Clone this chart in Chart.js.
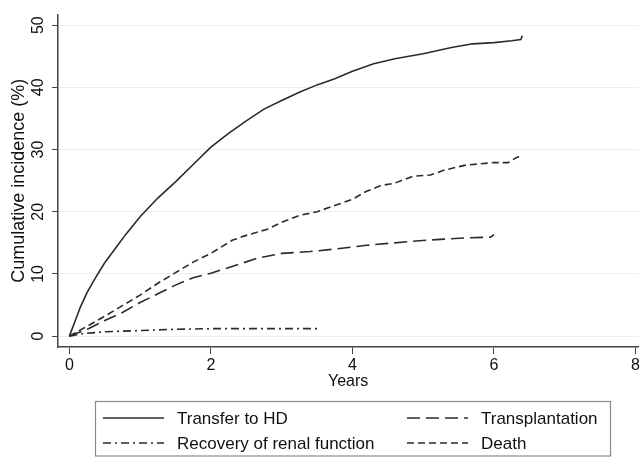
<!DOCTYPE html>
<html>
<head>
<meta charset="utf-8">
<script src="https://cdn.jsdelivr.net/npm/chart.js@4.4.1/dist/chart.umd.min.js"></script>
<style>
  html, body { margin: 0; padding: 0; background: #fff; }
  #wrap { width: 642px; height: 457px; position: relative; }
</style>
</head>
<body>
<div id="wrap"><canvas id="cifChart"></canvas></div>
<script>
// Cumulative incidence of competing events (%), by years since start
const xTicks = [0, 2, 4, 6, 8];
const yTicks = [0, 10, 20, 30, 40, 50];

const hdYears = [0, 0.085, 0.15, 0.25, 0.35, 0.5, 0.65, 0.8, 1.0, 1.25, 1.5, 1.75, 2.0, 2.25, 2.5, 2.75, 3.0, 3.25, 3.5, 3.75, 4.0, 4.3, 4.6, 5.0, 5.4, 5.7, 6.0, 6.25, 6.38, 6.4];
const hdValues = [0, 2.5, 4.5, 7.0, 9.0, 11.8, 14.1, 16.4, 19.2, 22.2, 24.8, 27.6, 30.4, 32.6, 34.6, 36.5, 37.9, 39.2, 40.4, 41.4, 42.6, 43.8, 44.6, 45.4, 46.4, 47.0, 47.2, 47.5, 47.7, 48.3];

const txYears = [0, 0.27, 0.5, 0.75, 1.0, 1.25, 1.5, 1.75, 2.0, 2.3, 2.65, 3.0, 3.4, 3.75, 4.2, 4.6, 4.9, 5.3, 5.6, 5.95, 6.0];
const txValues = [0, 1.2, 2.5, 3.8, 5.4, 6.8, 8.2, 9.4, 10.1, 11.2, 12.5, 13.3, 13.6, 14.0, 14.6, 15.0, 15.3, 15.6, 15.8, 15.9, 16.3];

const recYears = [0, 0.2, 0.5, 1.0, 1.5, 2.0, 2.5, 3.0, 3.55];
const recValues = [0, 0.4, 0.7, 0.9, 1.1, 1.2, 1.2, 1.2, 1.2];

const deathYears = [0, 0.27, 0.5, 0.75, 1.0, 1.25, 1.5, 1.75, 2.0, 2.3, 2.5, 2.8, 3.0, 3.25, 3.5, 3.75, 4.0, 4.2, 4.4, 4.6, 4.85, 5.1, 5.3, 5.6, 6.0, 6.2, 6.33, 6.36];
const deathValues = [0, 1.7, 3.2, 4.9, 6.6, 8.5, 10.2, 11.9, 13.3, 15.4, 16.2, 17.2, 18.3, 19.4, 20.0, 21.0, 22.0, 23.3, 24.2, 24.6, 25.7, 25.9, 26.7, 27.5, 27.9, 27.9, 28.8, 28.8];

function toPoints(xs, ys) {
  return xs.map((x, i) => ({ x: x, y: ys[i] }));
}

const lineColor = '#2b2b2b';
const fontFamily = '"Liberation Sans", Arial, Helvetica, sans-serif';

// legend drawn in a box under the plot, two columns like the Stata output
const boxLegend = {
  id: 'boxLegend',
  afterDraw(chart) {
    const ctx = chart.ctx;
    ctx.save();
    ctx.strokeStyle = '#8a8a8a';
    ctx.lineWidth = 1.2;
    ctx.strokeRect(95.5, 401.5, 515, 54.5);
    const cols = [{ lx: 103, tx: 177 }, { lx: 407, tx: 481 }];
    const rows = [418, 443];
    chart.data.datasets.forEach((ds, i) => {
      const c = cols[i % 2];
      const y = rows[Math.floor(i / 2)];
      ctx.strokeStyle = ds.borderColor;
      ctx.lineWidth = ds.borderWidth;
      ctx.setLineDash(ds.borderDash || []);
      ctx.beginPath();
      ctx.moveTo(c.lx, y);
      ctx.lineTo(c.lx + 61, y);
      ctx.stroke();
      ctx.setLineDash([]);
      ctx.fillStyle = '#111';
      ctx.font = '17px ' + fontFamily;
      ctx.textBaseline = 'middle';
      ctx.textAlign = 'left';
      ctx.fillText(ds.label, c.tx, y + 1);
    });
    ctx.restore();
  }
};

const ctx = document.getElementById('cifChart').getContext('2d');
const cifChart = new Chart(ctx, {
  type: 'line',
  data: {
    datasets: [
      {
        label: 'Transfer to HD',
        data: toPoints(hdYears, hdValues),
        borderColor: lineColor,
        borderWidth: 1.6,
        borderDash: []
      },
      {
        label: 'Transplantation',
        data: toPoints(txYears, txValues),
        borderColor: lineColor,
        borderWidth: 1.6,
        borderDash: [13, 6]
      },
      {
        label: 'Recovery of renal function',
        data: toPoints(recYears, recValues),
        borderColor: lineColor,
        borderWidth: 1.6,
        borderDash: [8, 4, 2, 4]
      },
      {
        label: 'Death',
        data: toPoints(deathYears, deathValues),
        borderColor: lineColor,
        borderWidth: 1.6,
        borderDash: [7, 4]
      }
    ]
  },
  options: {
    responsive: true,
    maintainAspectRatio: false,
    animation: false,
    elements: {
      point: { radius: 0 },
      line: { tension: 0, fill: false }
    },
    layout: {
      padding: { top: 8, right: 2, bottom: 66, left: 0 }
    },
    plugins: {
      legend: { display: false },
      tooltip: { enabled: false }
    },
    scales: {
      x: {
        type: 'linear',
        min: -0.16,
        max: 8.04,
        afterBuildTicks: function(scale) {
          scale.ticks = xTicks.map(v => ({ value: v }));
        },
        afterFit: function(scale) { scale.height = 44; },
        grid: {
          drawOnChartArea: false,
          drawTicks: true,
          tickLength: 7,
          color: '#444'
        },
        border: { display: true, color: '#444', width: 1.5 },
        ticks: {
          color: '#111',
          padding: 2,
          maxRotation: 0,
          font: { family: fontFamily, size: 16 }
        },
        title: {
          display: true,
          text: 'Years',
          color: '#111',
          padding: { top: 0, bottom: 0 },
          font: { family: fontFamily, size: 16 }
        }
      },
      y: {
        type: 'linear',
        min: -1.75,
        max: 51.7,
        afterBuildTicks: function(scale) {
          scale.ticks = yTicks.map(v => ({ value: v }));
        },
        afterFit: function(scale) { scale.width = 58; },
        grid: {
          color: '#ececec',
          lineWidth: 1,
          drawTicks: true,
          tickLength: 6,
          tickColor: '#444'
        },
        border: { display: true, color: '#444', width: 1.5 },
        ticks: {
          color: '#111',
          padding: 5,
          minRotation: 90,
          maxRotation: 90,
          crossAlign: 'center',
          font: { family: fontFamily, size: 16 }
        },
        title: {
          display: true,
          text: 'Cumulative incidence (%)',
          color: '#111',
          padding: { top: 8, bottom: 0 },
          font: { family: fontFamily, size: 18 }
        }
      }
    }
  },
  plugins: [boxLegend]
});
</script>
</body>
</html>
